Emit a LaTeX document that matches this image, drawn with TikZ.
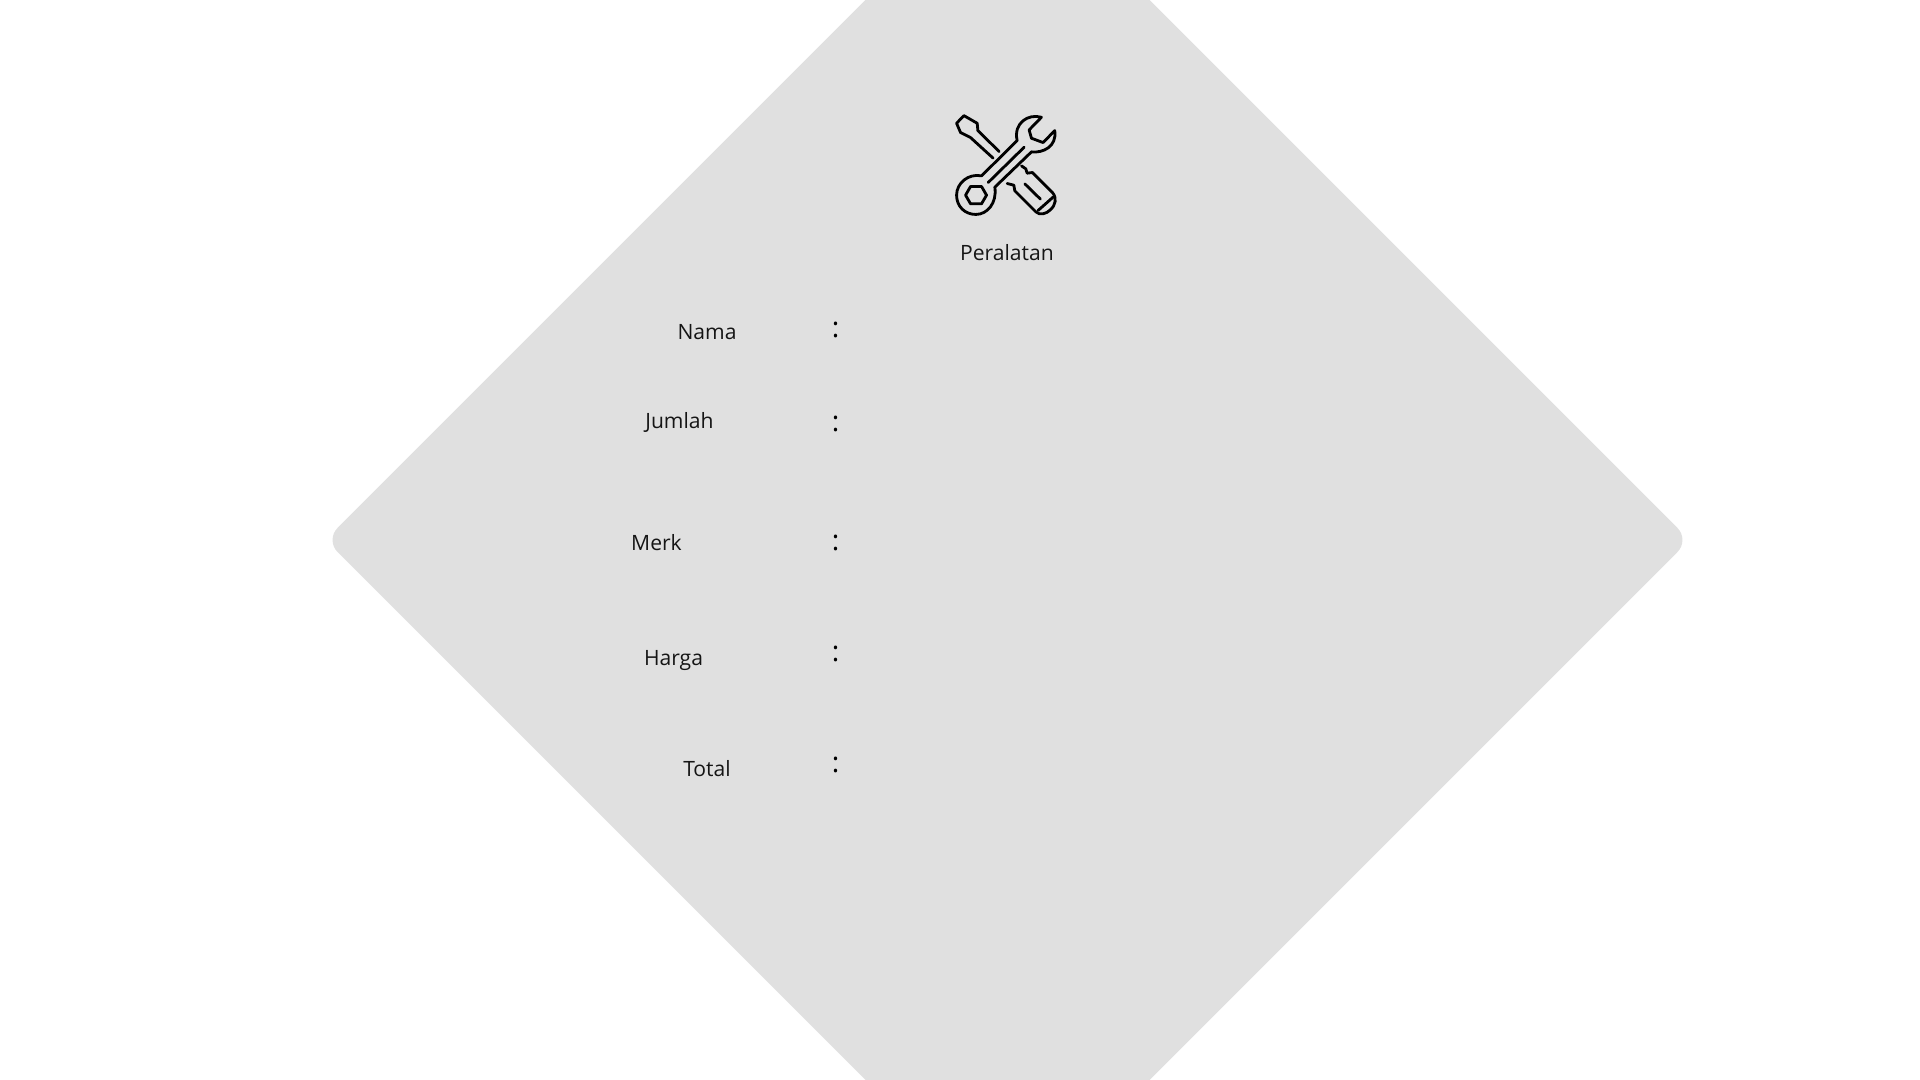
\documentclass[tikz,border=0pt]{standalone}
\usepackage{fontspec}
\setmainfont{Open Sans}
\definecolor{panelgray}{HTML}{E0E0E0}
\definecolor{inkdark}{HTML}{151515}
\begin{document}
\begin{tikzpicture}[x=0.01cm,y=-0.01cm]
  \tikzset{fieldlabel/.style={text=inkdark,inner sep=0pt,anchor=base,font=\fontsize{6pt}{7pt}\selectfont}}
  \tikzset{fieldcolon/.style={text=black,inner sep=0pt,anchor=base,font=\fontsize{8pt}{9pt}\selectfont}}
  \tikzset{iconline/.style={draw=black,line width=0.8pt,line join=round,line cap=round}}
  \useasboundingbox (0,0) rectangle (1920,1080);
  \clip (0,0) rectangle (1920,1080);
  \fill[panelgray,rounded corners=0.17cm] (1007.5,-142) -- (1689.5,540) -- (1007.5,1222) -- (325.5,540) -- cycle;
  \node[fieldlabel] (title) at (1007,261) {Peralatan};
  \node[fieldlabel] (nama) at (707,340) {Nama};
  \node[fieldlabel] (jumlah) at (679.5,429) {Jumlah};
  \node[fieldlabel] (merk) at (656.5,551) {Merk};
  \node[fieldlabel] (harga) at (673.5,666) {Harga};
  \node[fieldlabel] (total) at (707,777) {Total};
  \node[fieldcolon] (c1) at (835.7,338) {:};
  \node[fieldcolon] (c2) at (835.7,431.5) {:};
  \node[fieldcolon] (c3) at (835.7,551) {:};
  \node[fieldcolon] (c4) at (835.7,662) {:};
  \node[fieldcolon] (c5) at (835.7,773) {:};
  \begin{scope}[shift={(900,90)},x=0.00333cm,y=-0.00333cm]
    % screwdriver
    \draw[iconline] (298,185) -- (234,122) -- (232,100) -- (192,77) -- (170,100) -- (182,128) -- (212,143) -- (280,205);
    \draw[iconline] (365,228) -- (378,237) -- (382,250) -- (398,248) -- (458,308) .. controls (472,325) and (468,345) .. (452,360) .. controls (440,372) and (420,378) .. (408,366) -- (345,303) -- (342,286) -- (322,281);
    \draw[iconline] (375,282) -- (422,328);
    \draw[iconline] (415,362) -- (460,322);
    % wrench
    \draw[iconline] (245,258) .. controls (205,250) and (170,280) .. (170,316) .. controls (170,350) and (195,374) .. (228,374) .. controls (262,374) and (292,340) .. (285,292) -- (395,186) .. controls (430,190) and (472,170) .. (465,122) -- (430,158) -- (395,145) -- (388,120) -- (425,82) .. controls (385,70) and (340,100) .. (352,152) -- cycle;
    \draw[iconline] (197,316) -- (212,290) -- (245,290) -- (260,316) -- (245,342) -- (212,342) -- cycle;
    \draw[iconline] (265,278) -- (373,172);
  \end{scope}
\end{tikzpicture}
\end{document}
